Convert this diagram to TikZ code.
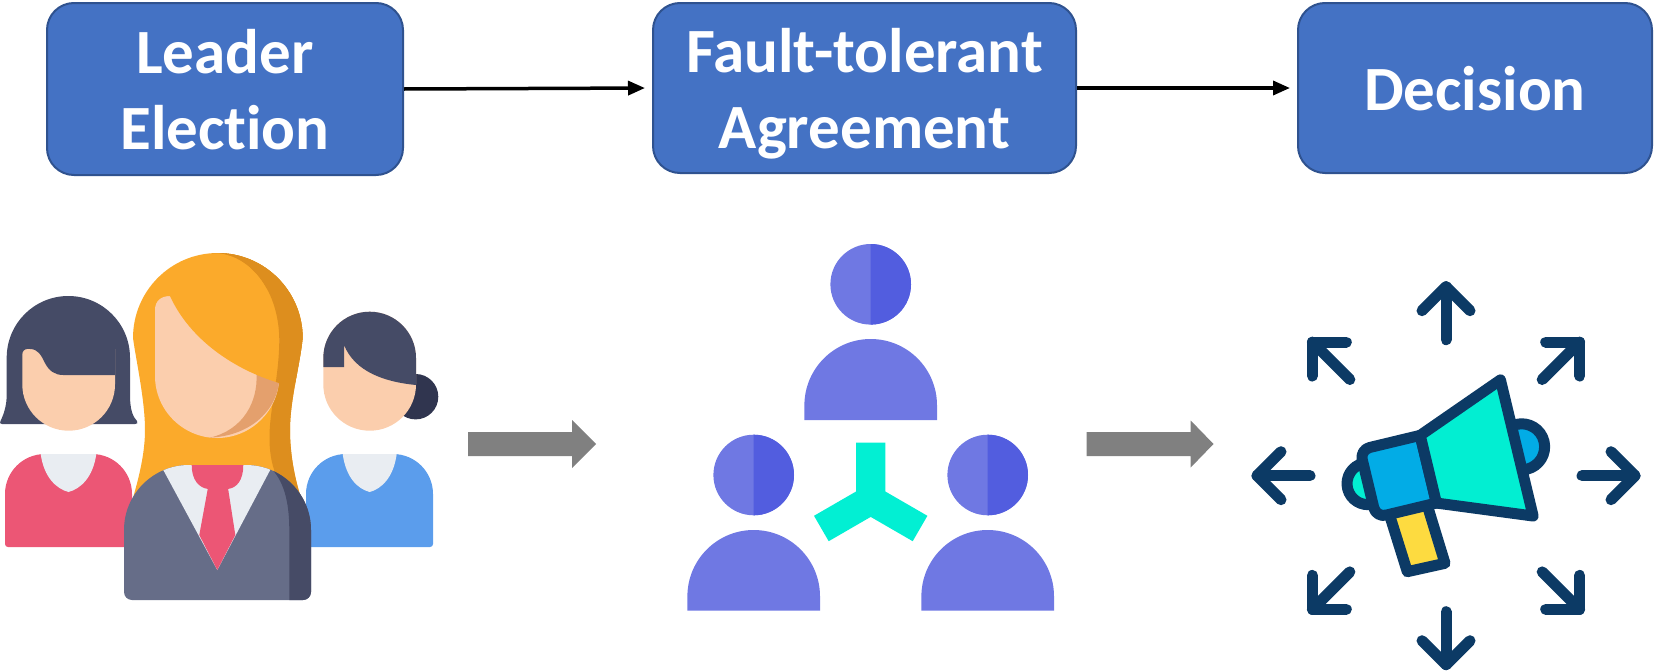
\documentclass[tikz,border=0pt]{standalone}
\usepackage{fontspec}
\setmainfont{Carlito}[Ligatures=NoCommon]
\usetikzlibrary{arrows.meta}

\definecolor{boxfill}{HTML}{4472C4}
\definecolor{boxline}{HTML}{2F528F}
\definecolor{flowgray}{HTML}{808080}
% people
\definecolor{hairdark}{HTML}{454B66}
\definecolor{bundark}{HTML}{30354F}
\definecolor{skin}{HTML}{FBCEAD}
\definecolor{skinshade}{HTML}{E4A06D}
\definecolor{hairgold}{HTML}{FBAA2B}
\definecolor{hairshade}{HTML}{DD8E1E}
\definecolor{shirtpink}{HTML}{EC5675}
\definecolor{shirtblue}{HTML}{5B9DEC}
\definecolor{collar}{HTML}{E9EDF2}
\definecolor{suit}{HTML}{666D88}
\definecolor{suitshade}{HTML}{464B66}
% team
\definecolor{teamlight}{HTML}{6F78E3}
\definecolor{teamdark}{HTML}{525DDF}
\definecolor{linkteal}{HTML}{02EFD3}
% megaphone
\definecolor{navy}{HTML}{0C3A65}
\definecolor{hornteal}{HTML}{02EED2}
\definecolor{hornblue}{HTML}{02ACE6}
\definecolor{gripyellow}{HTML}{FDDB40}

\begin{document}
\begin{tikzpicture}[x=1pt,y=-1pt,
  stepbox/.style={draw=boxline, line width=2pt, fill=boxfill, rounded corners=27pt,
    text=white, font=\bfseries\fontsize{63}{76}\selectfont, align=center,
    inner sep=0pt, text depth=0pt},
  flow/.style={line width=3.5pt, -{Triangle[length=17pt,width=14pt]}, shorten >=7pt},
  outline/.style={draw=navy, line width=11pt, line join=round, line cap=round}]
\useasboundingbox (0,0) rectangle (1655,672);

% ---------- process steps ----------
\node[stepbox, minimum width=356pt, minimum height=172pt] (elect) at (225,89) {Leader\\Election};
\node[stepbox, minimum width=423pt, minimum height=170pt] (agree) at (864.5,88) {Fault-tolerant\\Agreement};
\node[stepbox, minimum width=354pt, minimum height=170pt] (decide) at (1475,88) {Decision};
\draw[flow] (elect.east) -- (agree.west);
\draw[flow] (agree.east) -- (decide.west);

% ---------- block arrows ----------
\fill[flowgray] (468,432) -- (572,432) -- (572,420) -- (596,444) -- (572,468) -- (572,456) -- (468,456) -- cycle;
\fill[flowgray] (1086.7,432) -- (1190.7,432) -- (1190.7,420.5) -- (1213.5,444) -- (1190.7,467.5) -- (1190.7,456) -- (1086.7,456) -- cycle;

% ---------- candidates: left person ----------
\fill[hairdark] (6.7,357.7) .. controls (6.7,323.6) and (34.3,296) .. (68.3,296)
  .. controls (102.4,296) and (130,323.6) .. (130,357.7) -- (130,395)
  .. controls (130,410) and (133,417) .. (137,421) .. controls (138.5,423) and (137,424) .. (135,424)
  -- (2,424) .. controls (0,424) and (-0.5,422.5) .. (0.5,421) .. controls (4,414) and (6.7,405) .. (6.7,395) -- cycle;
\fill[skin] (22.3,355) .. controls (22.3,351.5) and (24.3,349) .. (28,349) -- (115,349) -- (115,384.4)
  .. controls (115,410) and (94.3,430.7) .. (68.65,430.7) .. controls (43,430.7) and (22.3,410) .. (22.3,384.4) -- cycle;
\fill[hairdark] (30,349) .. controls (38,349) and (41,355) .. (45,363) .. controls (49,371) and (55,375) .. (63.3,375) -- (115,375) -- (115,349) -- cycle;
\fill[shirtpink] (5,494) .. controls (5,471.9) and (22.9,454) .. (45,454) -- (92,454) .. controls (114.1,454) and (132,471.9) .. (132,494)
  -- (132,544) .. controls (132,545.7) and (130.7,547) .. (129,547) -- (8,547) .. controls (6.3,547) and (5,545.7) .. (5,544) -- cycle;
\fill[collar] (40.7,454) .. controls (44,478) and (57,489) .. (68.5,492) .. controls (80,489) and (93,478) .. (96.3,454) -- cycle;

% ---------- candidates: right person ----------
\fill[bundark] (415.6,396.7) circle (22.7);
\fill[skin] (323.3,358) .. controls (323.3,332.4) and (344.1,311.7) .. (369.7,311.7)
  .. controls (395.3,311.7) and (416,332.4) .. (416,358) -- (416,384.4) .. controls (416,410) and (395.3,430.7) .. (369.7,430.7)
  .. controls (344.1,430.7) and (323.3,410) .. (323.3,384.4) -- cycle;
\fill[hairdark] (323.3,367) -- (323.3,358) .. controls (323.3,332.4) and (344.1,311.7) .. (369.7,311.7)
  .. controls (395.3,311.7) and (416,332.4) .. (416,358) -- (416,385) .. controls (385,382) and (355,372) .. (344,345) -- (344,367) -- cycle;
\fill[shirtblue] (306,494) .. controls (306,471.9) and (323.9,454) .. (346,454) -- (393,454) .. controls (415.1,454) and (433,471.9) .. (433,494)
  -- (433,544) .. controls (433,545.7) and (431.7,547) .. (430,547) -- (309,547) .. controls (307.3,547) and (306,545.7) .. (306,544) -- cycle;
\fill[collar] (342.7,454) .. controls (346,478) and (358,489) .. (369.7,492) .. controls (381,489) and (393.5,478) .. (396.7,454) -- cycle;

% ---------- candidates: elected leader ----------
\tikzset{
  leaderhair/.style={insert path={(133,338) .. controls (133,291.1) and (170.8,253) .. (217.7,253)
    .. controls (264.6,253) and (302.7,291.1) .. (302.7,338)
    .. controls (300,365) and (290,400) .. (290,430) .. controls (290,455) and (295,480) .. (301.7,500)
    -- (133.3,497) .. controls (138,480) and (145,455) .. (145,430) .. controls (145,400) and (136,360) .. (133,338) -- cycle}},
  hairstrand/.style={insert path={(210,253) -- (217.7,253) .. controls (252,256) and (279,292) .. (279.3,340)
    .. controls (279,380) and (269,410) .. (269.5,440) .. controls (270,470) and (280,490) .. (300,505)
    -- (330,505) -- (330,240) -- (210,240) -- cycle}}
}
\fill[hairgold, leaderhair];
\begin{scope}
  \clip[leaderhair];
  \fill[hairshade, hairstrand];
\end{scope}
\fill[skin] (155,310) .. controls (155,301) and (161,296) .. (170,296) -- (279.3,296) -- (279.3,376)
  .. controls (279.3,410.2) and (251.4,438) .. (217.2,438) .. controls (183,438) and (155,410.2) .. (155,376) -- cycle;
\fill[skinshade] (257,350) -- (256.5,374) .. controls (258,402) and (243,430) .. (210,437.6)
  .. controls (250,436) and (279.3,410) .. (279.3,376) -- (279.3,350) -- cycle;
\fill[hairgold] (170,296) .. controls (190,340) and (235,370) .. (279.3,383) -- (279.3,290) -- (160,276) -- (160,296) -- cycle;
% the darker strand again, above the fringe line only
\begin{scope}
  \clip[leaderhair];
  \clip (170,296) .. controls (190,340) and (235,370) .. (279.3,383) -- (330,383) -- (330,240) -- (150,240) -- (150,296) -- cycle;
  \fill[hairshade, hairstrand];
\end{scope}
\fill[suit] (124,530) .. controls (124,494.1) and (153.1,465) .. (189,465) -- (246,465) .. controls (281.9,465) and (311,494.1) .. (311,530)
  -- (311,592) .. controls (311,596.4) and (307.4,600) .. (303,600) -- (132,600) .. controls (127.6,600) and (124,596.4) .. (124,592) -- cycle;
\begin{scope}
  \clip (124,530) .. controls (124,494.1) and (153.1,465) .. (189,465) -- (246,465) .. controls (281.9,465) and (311,494.1) .. (311,530)
    -- (311,592) .. controls (311,596.4) and (307.4,600) .. (303,600) -- (132,600) .. controls (127.6,600) and (124,596.4) .. (124,592) -- cycle;
  \fill[suitshade] (270.7,468) .. controls (283,480) and (289.3,500) .. (289.3,530) -- (289.3,610) -- (320,610) -- (320,455) -- (262,455) -- cycle;
  \fill[collar] (163.3,470) -- (217.3,570) -- (270.7,469) -- (270.7,455) -- (163.3,455) -- cycle;
  \fill[shirtpink] (191.7,465) .. controls (191.7,480) and (199,488) .. (208.3,489) -- (227.7,489)
    .. controls (237,488) and (243.3,480) .. (243.3,465) -- cycle;
  \fill[shirtpink] (208.3,486) -- (199.3,535) -- (217.3,570) -- (235.3,535) -- (227.7,486) -- cycle;
\end{scope}

% ---------- agreement group ----------
\foreach \hx/\hy in {870.7/284.3, 753.7/475, 987.7/475} {
  \fill[teamlight] (\hx,\hy) circle (40.3);
  \begin{scope}
    \clip (\hx,\hy-41) rectangle (\hx+41,\hy+41);
    \fill[teamdark] (\hx,\hy) circle (40.3);
  \end{scope}
}
\foreach \bx/\by/\bh in {870.7/339/81, 753.7/530/80.5, 987.7/530/80.5} {
  \fill[teamlight] (\bx-66.3,\by+\bh) -- (\bx-66.3,\by+66.3) .. controls (\bx-66.3,\by+29.7) and (\bx-36.6,\by) .. (\bx,\by)
    .. controls (\bx+36.6,\by) and (\bx+66.3,\by+29.7) .. (\bx+66.3,\by+66.3) -- (\bx+66.3,\by+\bh) -- cycle;
}
\fill[linkteal] (856.05,442.7) -- (885.35,442.7) -- (885.35,491.5) -- (927.4,515.8) -- (912.7,541.2) -- (870.7,516.9)
  -- (828.7,541.2) -- (814.0,515.8) -- (856.05,491.5) -- cycle;

% ---------- broadcast megaphone ----------
\filldraw[outline, fill=gripyellow] (1387.5,508.5) -- (1427,504.5) -- (1445,563.3) -- (1407.3,571.7) -- cycle;
\begin{scope}[shift={(1428.3,469.2)}, rotate=13.5]
  \filldraw[outline, fill=hornteal] (-62,0) circle (21);
  \filldraw[outline, fill=hornblue] (96,0) circle (23);
  \filldraw[outline, fill=hornblue] (0,-34.8) -- (-52,-34.8) .. controls (-57.5,-34.8) and (-62,-30.3) .. (-62,-24.8)
    -- (-62,24.8) .. controls (-62,30.3) and (-57.5,34.8) .. (-52,34.8) -- (0,34.8) -- cycle;
  \filldraw[outline, fill=hornteal] (0,-34.8) -- (91,-70) -- (91,70) -- (0,34.8) -- cycle;
\end{scope}
\foreach \ang in {0,45,...,315} {
  \begin{scope}[shift={(1446,475.7)}, rotate=\ang]
    \draw[outline] (136,0) -- (189,0);
    \draw[outline] (165,-24) -- (189,0) -- (165,24);
  \end{scope}
}
\end{tikzpicture}
\end{document}
